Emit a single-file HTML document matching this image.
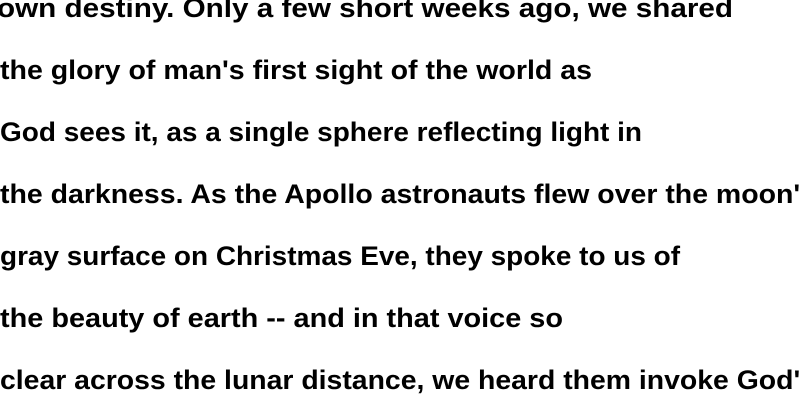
<!DOCTYPE html>
<html><head><meta charset="utf-8">
<style>
html,body{margin:0;padding:0;background:#fff;width:800px;height:400px;overflow:hidden}
svg{display:block}
text{font-family:"Liberation Sans","DejaVu Sans",sans-serif;font-weight:bold;font-size:27px;fill:#000}
</style></head>
<body>
<svg width="800" height="400" viewBox="0 0 800 400">
<text x="-3" y="17" textLength="736" lengthAdjust="spacingAndGlyphs">own destiny. Only a few short weeks ago, we shared</text>
<text x="0" y="79" textLength="592" lengthAdjust="spacingAndGlyphs">the glory of man's first sight of the world as</text>
<text x="0" y="141" textLength="642" lengthAdjust="spacingAndGlyphs">God sees it, as a single sphere reflecting light in</text>
<text x="0" y="203" textLength="816" lengthAdjust="spacingAndGlyphs">the darkness. As the Apollo astronauts flew over the moon's</text>
<text x="0" y="265" textLength="680" lengthAdjust="spacingAndGlyphs">gray surface on Christmas Eve, they spoke to us of</text>
<text x="0" y="327" textLength="563" lengthAdjust="spacingAndGlyphs">the beauty of earth -- and in that voice so</text>
<text x="0" y="389" textLength="816" lengthAdjust="spacingAndGlyphs">clear across the lunar distance, we heard them invoke God's</text>
</svg>
</body></html>
